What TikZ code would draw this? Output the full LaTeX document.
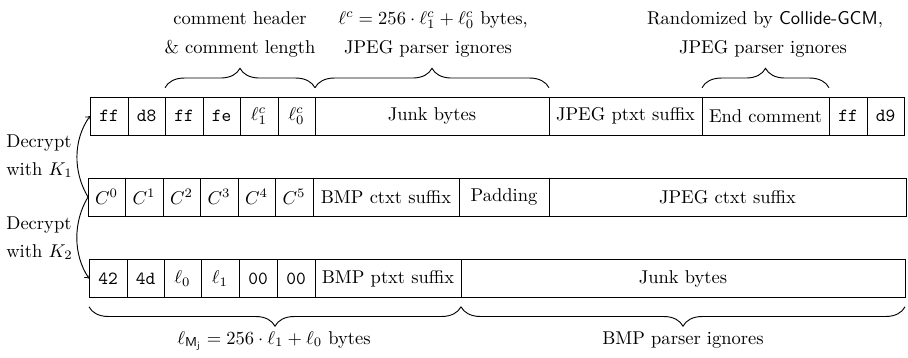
\documentclass[tikz,border=0pt]{standalone}
\usetikzlibrary{decorations.pathreplacing,calc}
\begin{document}
\begin{tikzpicture}[x=0.54pt,y=-0.54pt,
 cell/.style={draw, line width=0.5pt, inner sep=0pt, outer sep=0pt, minimum height=38*0.54pt, anchor=west},
 cw/.style={minimum width=#1*0.54pt},
 brc/.style={decorate, decoration={brace, amplitude=10.5pt, raise=5pt}, line width=0.5pt},
 lab/.style={anchor=base, inner sep=0pt},
 llab/.style={anchor=base west, inner sep=0pt},
 arr/.style={->, line width=0.5pt}]
\useasboundingbox (0,0) rectangle (908,357);

% Row 1: JPEG plaintext
\node[cell,cw=38] (a1) at (90,116) {\texttt{ff}};
\node[cell,cw=37] (a2) at (a1.east) {\texttt{d8}};
\node[cell,cw=38] (a3) at (a2.east) {\texttt{ff}};
\node[cell,cw=37] (a4) at (a3.east) {\texttt{fe}};
\node[cell,cw=38] (a5) at (a4.east) {$\ell^c_1$};
\node[cell,cw=37] (a6) at (a5.east) {$\ell^c_0$};
\node[cell,cw=234] (a7) at (a6.east) {Junk bytes};
\node[cell,cw=153] (a8) at (a7.east) {JPEG ptxt suffix};
\node[cell,cw=127] (a9) at (a8.east) {End comment};
\node[cell,cw=38] (a10) at (a9.east) {\texttt{ff}};
\node[cell,cw=37] (a11) at (a10.east) {\texttt{d9}};

% Row 2: ciphertext
\node[cell,cw=37] (b1) at (88,197) {$C^0$};
\node[cell,cw=38] (b2) at (b1.east) {$C^1$};
\node[cell,cw=37] (b3) at (b2.east) {$C^2$};
\node[cell,cw=38] (b4) at (b3.east) {$C^3$};
\node[cell,cw=37] (b5) at (b4.east) {$C^4$};
\node[cell,cw=38] (b6) at (b5.east) {$C^5$};
\node[cell,cw=146] (b7) at (b6.east) {BMP ctxt suffix};
\node[cell,cw=90] (b8) at (b7.east) {Padding};
\node[cell,cw=357] (b9) at (b8.east) {JPEG ctxt suffix};

% Row 3: BMP plaintext
\node[cell,cw=38] (c1) at (89,278.5) {\texttt{42}};
\node[cell,cw=37] (c2) at (c1.east) {\texttt{4d}};
\node[cell,cw=37] (c3) at (c2.east) {$\ell_0$};
\node[cell,cw=38] (c4) at (c3.east) {$\ell_1$};
\node[cell,cw=38] (c5) at (c4.east) {\texttt{00}};
\node[cell,cw=38] (c6) at (c5.east) {\texttt{00}};
\node[cell,cw=146] (c7) at (c6.east) {BMP ptxt suffix};
\node[cell,cw=444] (c8) at (c7.east) {Junk bytes};

% Braces
\draw[brc] (a3.north west) -- (a6.north east);
\draw[brc] (a6.north east) -- (a7.north east);
\draw[brc] (a9.north west) -- (a9.north east);
\draw[brc] (c7.south east) -- (c1.south west);
\draw[brc] (c8.south east) -- (c8.south west);

% Top labels
\node[lab] (t1a) at (240,24) {comment header};
\node[lab] (t1b) at (240,53) {\& comment length};
\node[lab] (t2a) at (433,24) {$\ell^c = 256\cdot\ell^c_1+\ell^c_0$ bytes,};
\node[lab] (t2b) at (428,53) {JPEG parser ignores};
\node[lab] (t3a) at (765,24) {Randomized by \textsf{Collide-GCM},};
\node[lab] (t3b) at (763,53) {JPEG parser ignores};

% Bottom labels
\node[lab] (u1) at (274,344) {$\ell_{\mathsf{M}_\mathsf{j}} = 256\cdot\ell_1+\ell_0$ bytes};
\node[lab] (u2) at (683,344) {BMP parser ignores};

% Left labels
\node[llab] (d1a) at (6,147) {Decrypt};
\node[llab] (d1b) at (6,175) {with $K_1$};
\node[llab] (d2a) at (6,229) {Decrypt};
\node[llab] (d2b) at (6,257) {with $K_2$};

% Arrows
\draw[arr] (b1.west) .. controls ($(b1.west)+(-15,-25)$) and ($(a1.west)+(-17,24)$) .. (a1.west);
\draw[arr] (b1.west) .. controls ($(b1.west)+(-15,25)$) and ($(c1.west)+(-16,-24)$) .. (c1.west);
\end{tikzpicture}
\end{document}
